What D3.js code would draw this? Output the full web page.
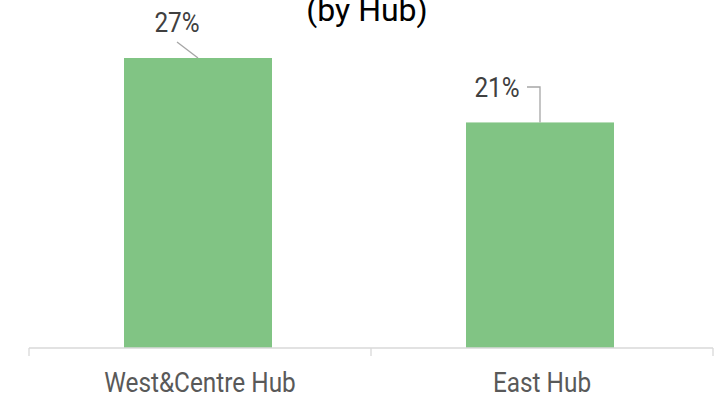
<!DOCTYPE html>
<html>
<head>
<meta charset="utf-8">
<script src="https://cdn.jsdelivr.net/npm/d3@7"></script>
<style>
  html, body { margin: 0; padding: 0; background: #fff; }
  svg { display: block; font-family: Roboto, "Noto Sans", sans-serif; }
</style>
</head>
<body>
<svg id="chart" width="716" height="396"></svg>
<script>
// Share of total by hub
const categories = ["West&Centre Hub", "East Hub"];
const values = [27, 21];
const valueLabels = ["27%", "21%"];
const titleLine = "(by Hub)";

const svg = d3.select("#chart");
const left = 29, right = 713, baseline = 348;
const squeeze = 0.87; // narrow the text horizontally for a condensed look

const x = d3.scaleBand().domain(categories).range([left, right]).paddingInner(0).paddingOuter(0);
const y = d3.scaleLinear().domain([0, 27]).range([baseline, 58]);
const barW = 148;

// title (upper line sits above the visible area)
svg.append("text")
  .attr("x", 367).attr("y", 21)
  .attr("text-anchor", "middle")
  .attr("font-size", 32)
  .attr("fill", "#000")
  .text(titleLine);

// bars
svg.selectAll("rect.bar").data(categories).enter().append("rect")
  .attr("class", "bar")
  .attr("x", d => x(d) + x.bandwidth() / 2 - 2 - barW / 2)
  .attr("y", (d, i) => y(values[i]))
  .attr("width", barW)
  .attr("height", (d, i) => baseline - y(values[i]))
  .attr("fill", "#81c484");

// category axis
const axis = d3.axisBottom(x).tickSize(0).tickFormat(d => d);
const gAxis = svg.append("g").attr("transform", `translate(0,${baseline})`).call(axis);
gAxis.select(".domain").attr("stroke", "#d9d9d9").attr("stroke-width", 1.3)
  .attr("d", `M${left},0H${right}`);
gAxis.selectAll(".tick text")
  .attr("font-size", 28).attr("fill", "#595959").attr("dy", 0).attr("y", 44).attr("x", 0)
  .attr("font-family", "Roboto, sans-serif")
  .attr("transform", `scale(${squeeze},1)`);
// boundary tick marks between categories
const bounds = [left, ...categories.slice(1).map(c => x(c)), right];
gAxis.selectAll("line.bound").data(bounds).enter().append("line")
  .attr("class", "bound")
  .attr("x1", d => d).attr("x2", d => d)
  .attr("y1", 0).attr("y2", 8)
  .attr("stroke", "#d9d9d9").attr("stroke-width", 1.3);

// value labels with leader lines
const labelPos = [
  { tx: 177, ty: 32, path: (cx, top) => `M177,42L${cx},${top}` },
  { tx: 497, ty: 97, path: (cx, top) => `M527,87H${cx}V${top}` }
];
categories.forEach((c, i) => {
  const cx = x(c) + x.bandwidth() / 2 - 2;
  const top = y(values[i]);
  svg.append("path")
    .attr("d", labelPos[i].path(cx, top))
    .attr("fill", "none")
    .attr("stroke", "#a6a6a6")
    .attr("stroke-width", 1.3);
  svg.append("g")
    .attr("transform", `translate(${labelPos[i].tx},${labelPos[i].ty}) scale(${squeeze},1)`)
    .append("text")
    .attr("text-anchor", "middle")
    .attr("font-size", 28)
    .attr("fill", "#404040")
    .text(valueLabels[i]);
});
</script>
</body>
</html>
